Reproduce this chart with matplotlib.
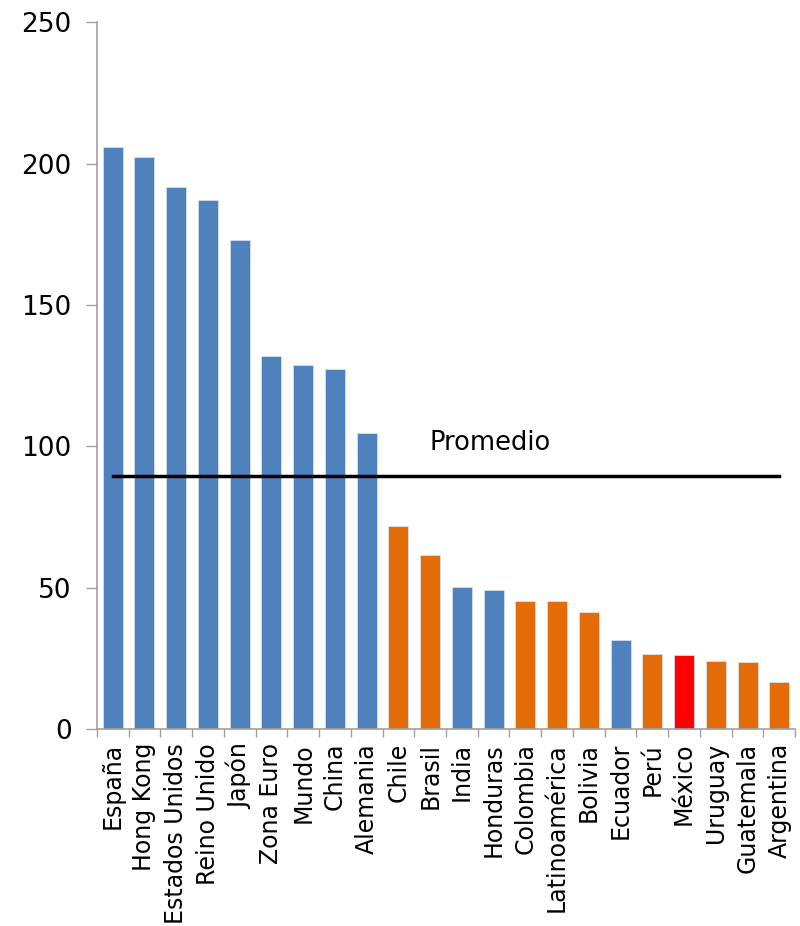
import matplotlib.pyplot as plt
import numpy as np

countries = ['España', 'Hong Kong', 'Estados Unidos', 'Reino Unido', 'Japón',
             'Zona Euro', 'Mundo', 'China', 'Alemania', 'Chile', 'Brasil',
             'India', 'Honduras', 'Colombia', 'Latinoamérica', 'Bolivia',
             'Ecuador', 'Perú', 'México', 'Uruguay', 'Guatemala', 'Argentina']
values = [205.8, 202.3, 191.7, 187.0, 172.9, 131.9, 128.7, 127.3, 104.7,
          71.8, 61.5, 50.2, 49.2, 45.3, 45.3, 41.4, 31.5, 26.5, 26.2,
          24.0, 23.7, 16.6]
groups = ['otro'] * 9 + ['latam', 'latam', 'otro', 'otro', 'latam', 'latam',
                         'latam', 'otro', 'latam', 'mx', 'latam', 'latam', 'latam']
promedio = 89.5

palette = {'otro': '#4F81BD', 'latam': '#E36C09', 'mx': '#FF0000'}
colors = [palette[g] for g in groups]

plt.rcParams['font.family'] = ['DejaVu Sans']

fig = plt.figure(figsize=(8, 9.26), dpi=100)
ax = fig.add_axes([0.121, 0.2127, 0.873, 0.7633])

x = np.arange(len(countries))
ax.bar(x, values, width=0.63, color=colors, edgecolor='#dce6f2', linewidth=0.5, zorder=2)

ax.plot([x[0], x[-1]], [promedio, promedio], color='black', linewidth=2.5, zorder=3)
ax.text(11.9, promedio + 7, 'Promedio', ha='center', va='bottom', fontsize=18.5)

ax.set_xlim(-0.5, len(countries) - 0.5)
ax.set_ylim(0, 250)
ax.set_yticks(range(0, 251, 50))
ax.tick_params(axis='y', labelsize=19, length=8, color='#a0a0a0', width=1, pad=10)

ax.set_xticks(x)
ax.set_xticklabels(countries, rotation=90, fontsize=17)
ax.tick_params(axis='x', length=0, pad=10)
ax.set_xticks(np.arange(-0.5, len(countries)), minor=True)
ax.tick_params(axis='x', which='minor', length=6, color='#a0a0a0', width=1)

for side in ['top', 'right']:
    ax.spines[side].set_visible(False)
for side in ['left', 'bottom']:
    ax.spines[side].set_color('#a0a0a0')
    ax.spines[side].set_linewidth(1.2)

fig.savefig('out.png', dpi=100)
